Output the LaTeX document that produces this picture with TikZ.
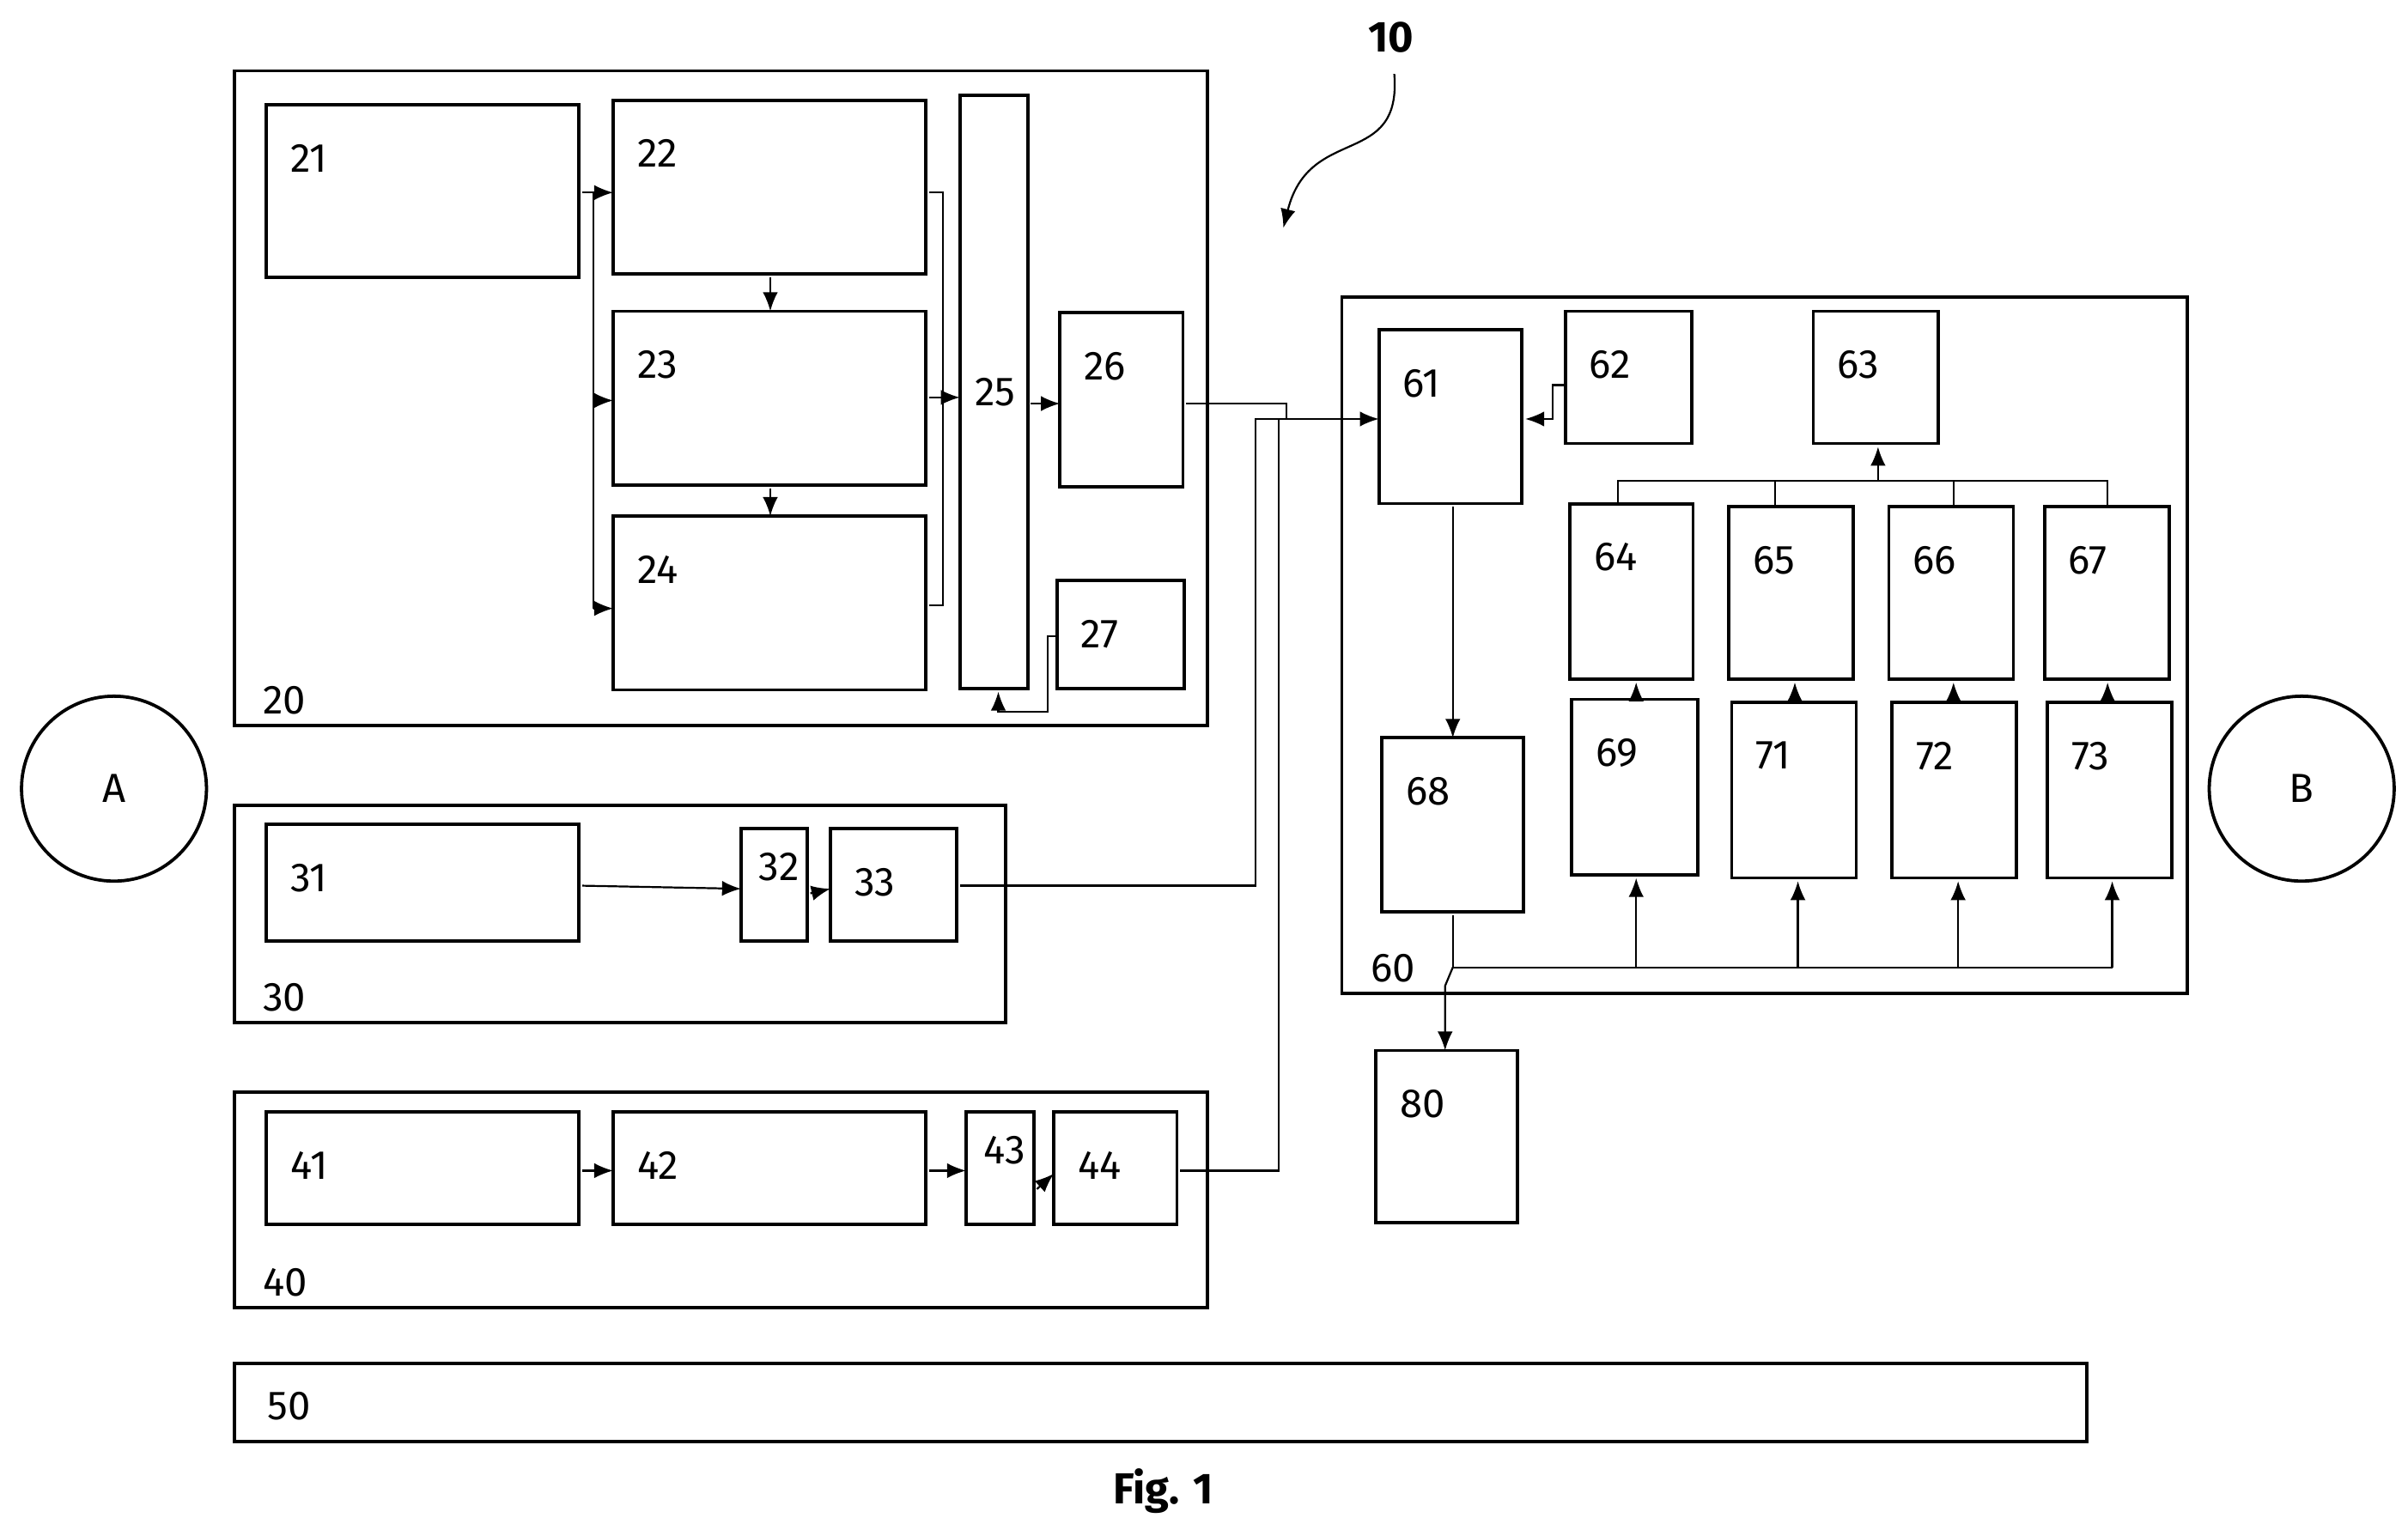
\documentclass[tikz,border=0pt]{standalone}
\usepackage{fontspec}
\setmainfont{Fira Sans}
\usetikzlibrary{arrows.meta}
\begin{document}
\begin{tikzpicture}[x=0.01cm,y=-0.01cm,
 bx/.style={draw,line width=0.6pt,inner sep=0pt,outer sep=0pt,anchor=north west},
 lab/.style={anchor=north west,font=\fontsize{7.5}{9}\selectfont,inner sep=0pt},
 ln/.style={line width=0.35pt},
 ar/.style={ln,-{Latex[length=3.5pt,width=2.8pt]}}]
\useasboundingbox (0,0) rectangle (1563,993);
\newcommand\B[5]{\node[bx,minimum width={(#4-#2)*0.01cm-0.6pt},minimum height={(#5-#3)*0.01cm-0.6pt}] (n#1) at (#2,#3) {};
 \node[lab] (l#1) at (#2+15,#3+25) {#1};}
\newcommand\C[5]{\node[bx,minimum width={(#4-#2)*0.01cm-0.6pt},minimum height={(#5-#3)*0.01cm-0.6pt}] (n#1) at (#2,#3) {};
 \node[lab] (l#1) at (#2+18,#5-28) {#1};}
\C{20}{152}{46}{786}{473}
\B{21}{173}{68}{378}{182}
\B{22}{398}{65}{603}{180}
\B{23}{398}{202}{603}{317}
\B{24}{398}{335}{603}{450}
\node[bx,minimum width=0.44cm,minimum height=3.85cm] (n25) at (623,62) {};
\node[lab] (l25) at (632,245) {25};
\B{26}{688}{203}{770}{318}
\B{27}{686}{377}{771}{449}
\C{30}{152}{523}{655}{666}
\B{31}{173}{535}{378}{613}
\node[bx,minimum width=0.43cm,minimum height=0.73cm] (n32) at (481,538) {};
\node[lab] (l32) at (492,553) {32};
\B{33}{539}{538}{623}{613}
\C{40}{152}{709}{786}{851}
\B{41}{173}{722}{378}{797}
\B{42}{398}{722}{603}{797}
\node[bx,minimum width=0.44cm,minimum height=0.73cm] (n43) at (627,722) {};
\node[lab] (l43) at (638,737) {43};
\B{44}{684}{722}{766}{797}
\node[bx,minimum width=12.02cm,minimum height=0.51cm] (n50) at (152,885) {};
\node[lab] (l50) at (173,903) {50};
\C{60}{871}{193}{1422}{647}
\B{61}{895}{214}{990}{329}
\B{62}{1016}{202}{1100}{290}
\B{63}{1177}{202}{1260}{290}
\B{64}{1019}{327}{1101}{443}
\B{65}{1122}{329}{1205}{443}
\B{66}{1226}{329}{1309}{443}
\B{67}{1327}{329}{1410}{443}
\B{68}{897}{479}{991}{594}
\B{69}{1020}{454}{1104}{570}
\B{71}{1124}{456}{1207}{572}
\B{72}{1228}{456}{1311}{572}
\B{73}{1329}{456}{1412}{572}
\B{80}{893}{682}{987}{796}
\node[draw,line width=0.6pt,circle,minimum size=1.2cm,font=\fontsize{7.5}{9}\selectfont] (A) at (74,512) {A};
\node[draw,line width=0.6pt,circle,minimum size=1.2cm,font=\fontsize{7.5}{9}\selectfont] (Bc) at (1494,512) {B};
\node[font=\bfseries\fontsize{8}{9}\selectfont] (t10) at (903,24) {10};
\node[font=\bfseries\fontsize{8}{9}\selectfont] (fig) at (755,968) {Fig. 1};
\coordinate (c10a) at (905,48);
\coordinate (c10b) at (833,148);
\draw[ar] (c10a) .. controls (910,110) and (850,80) .. (c10b);
% block 20
\draw[ln] (378,125) -- (385,125) -- (385,395);
\draw[ar] (385,125) -- (398,125);
\draw[ar] (385,260) -- (398,260);
\draw[ar] (385,395) -- (398,395);
\draw[ar] (500,180) -- (500,202);
\draw[ar] (500,317) -- (500,335);
\draw[ln] (603,125) -- (612,125) -- (612,393) -- (603,393);
\draw[ar] (603,258) -- (623,258);
\draw[ar] (669,262) -- (688,262);
\draw[ar] (686,413) -- (680,413) -- (680,462) -- (648,462) -- (648,449);
% block 30/40
\draw[ar] (378,575) -- (481,577);
\draw[ar] (526,580) -- (539,577);
\draw[ar] (378,760) -- (398,760);
\draw[ar] (603,760) -- (627,760);
\draw[ar] (673,772) -- (684,762);
% to 61
\draw[ar] (770,262) -- (835,262) -- (835,272) -- (895,272);
\draw[ln] (623,575) -- (815,575) -- (815,272) -- (835,272);
\draw[ln] (766,760) -- (830,760) -- (830,272);
\draw[ar] (1016,250) -- (1008,250) -- (1008,272) -- (990,272);
\draw[ar] (943,329) -- (943,479);
% 64-67 to 63
\draw[ln] (1050,327) -- (1050,312) -- (1368,312) -- (1368,329);
\draw[ln] (1152,329) -- (1152,312);
\draw[ln] (1268,329) -- (1268,312);
\draw[ar] (1219,312) -- (1219,290);
\draw[ar] (1062,454) -- (1062,443);
\draw[ar] (1165,456) -- (1165,443);
\draw[ar] (1268,456) -- (1268,443);
\draw[ar] (1368,456) -- (1368,443);
% 68 distribution
\draw[ln] (943,594) -- (943,628) -- (1371,628);
\draw[ar] (1062,628) -- (1062,570);
\draw[ar] (1167,628) -- (1167,572);
\draw[ar] (1271,628) -- (1271,572);
\draw[ar] (1371,628) -- (1371,572);
\draw[ar] (943,628) -- (938,640) -- (938,682);
\end{tikzpicture}
\end{document}
